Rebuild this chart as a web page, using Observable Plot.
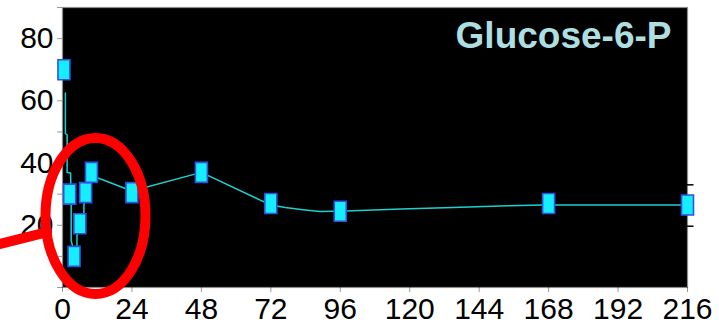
<!DOCTYPE html>
<html>
<head>
<meta charset="utf-8">
<script src="https://cdn.jsdelivr.net/npm/d3@7"></script>
<script src="https://cdn.jsdelivr.net/npm/@observablehq/plot@0.6"></script>
<style>
  html, body { margin: 0; padding: 0; background: #fff; }
  #chart svg { display: block; }
</style>
</head>
<body>
<div id="chart"></div>
<script>
// ---- data ----
const sampleTimes  = [0.5, 2.5, 4, 6, 8, 10, 24, 48, 72, 96, 168, 216];
const sampleValues = [70, 30, 10, 20.5, 30.5, 37, 30.5, 37, 27, 24.5, 27, 26.5];

const fitTimes  = [1.0, 1.0, 1.6, 1.6, 2.8, 3.0, 3.0, 3.9, 4.6, 5.0, 5.0, 6.2, 7.4, 7.4, 8, 10, 24, 48, 72, 77, 83, 89, 98, 117, 135, 154, 166, 216];
const fitValues = [62.5, 49.5, 49, 37, 36.8, 26, 15, 12, 12, 13.5, 16.8, 20, 24, 26.5, 30, 36, 31, 37, 26.5, 25.7, 25, 24.4, 24.6, 25.2, 25.7, 26.3, 26.5, 26.5];

const errTimes = [216];
const errLow   = [19.7];
const errHigh  = [33];

const xTicks = [0, 24, 48, 72, 96, 120, 144, 168, 192, 216];
const yTicks = [0, 10, 20, 30, 40, 50, 60, 70, 80, 90];
const yTickLabels = [20, 40, 60, 80];
const titleText = "Glucose-6-P";

// annotation (red callout), in data units
const calloutTimes  = [11.4];
const calloutValues = [23];
const pointerTimes  = [-21.5, -5.3];
const pointerValues = [14.0, 17.8];

// ---- tables ----
const samples = sampleTimes.map((t, i) => ({t, v: sampleValues[i]}));
const fit = fitTimes.map((t, i) => ({t, v: fitValues[i]}));
const caps = errTimes.flatMap((t, i) => [{t, v: errLow[i]}, {t, v: errHigh[i]}]);
const callout = calloutTimes.map((t, i) => ({t, v: calloutValues[i]}));
const pointer = pointerTimes.map((t, i) => ({t, v: pointerValues[i]}));

// ---- custom symbols ----
const rectSymbol = {draw(ctx) { ctx.moveTo(-6, -10); ctx.lineTo(6, -10); ctx.lineTo(6, 10); ctx.lineTo(-6, 10); ctx.closePath(); }};
const capSymbol = {draw(ctx) { ctx.moveTo(-6, 0); ctx.lineTo(6, 0); }};
const ellipseSymbol = {draw(ctx) {
  const rx = 50, ry = 78, k = 0.5523;
  ctx.moveTo(rx, 0);
  ctx.bezierCurveTo(rx, k * ry, k * rx, ry, 0, ry);
  ctx.bezierCurveTo(-k * rx, ry, -rx, k * ry, -rx, 0);
  ctx.bezierCurveTo(-rx, -k * ry, -k * rx, -ry, 0, -ry);
  ctx.bezierCurveTo(k * rx, -ry, rx, -k * ry, rx, 0);
  ctx.closePath();
}};

const chart = Plot.plot({
  width: 719,
  height: 329,
  marginLeft: 62,
  marginRight: 32,
  marginTop: 7,
  marginBottom: 42,
  style: {fontFamily: "'Liberation Sans', Arial, sans-serif", background: "white", color: "black"},
  x: {domain: [0, 216], label: null, axis: null},
  y: {domain: [0, 90], label: null, axis: null},
  marks: [
    Plot.frame({fill: "black", stroke: "#8c8c8c", strokeWidth: 1.2}),
    Plot.axisX({ticks: xTicks, tickSize: 5, tickPadding: 5, fontSize: 30, label: null, tickFormat: d => String(d),
                stroke: "black", strokeWidth: 0.4}),
    Plot.axisY({ticks: yTicks, tickSize: 5, tickPadding: 4, fontSize: 30, label: null,
                tickFormat: d => yTickLabels.includes(d) ? String(d) : "", stroke: "black", strokeWidth: 0.4}),
    Plot.dot(caps, {x: "t", y: "v", symbol: capSymbol, stroke: "black", strokeWidth: 1.5}),
    Plot.line(fit, {x: "t", y: "v", stroke: "#1fcfcf", strokeWidth: 1.5}),
    Plot.dot(samples, {x: "t", y: "v", symbol: rectSymbol, fill: "#14eeff", stroke: "#2f52e0", strokeWidth: 1.6}),
    Plot.text([titleText], {frameAnchor: "top-right", dx: -16, dy: 14, text: d => d, fill: "#aedfe0",
                fontWeight: "bold", fontSize: 37, textAnchor: "end", lineAnchor: "top"}),
    Plot.line(pointer, {x: "t", y: "v", stroke: "#ff0000", strokeWidth: 10}),
    Plot.dot(callout, {x: "t", y: "v", symbol: ellipseSymbol, stroke: "#ff0000", strokeWidth: 10, fill: "none"})
  ]
});
document.getElementById("chart").appendChild(chart);
</script>
</body>
</html>
